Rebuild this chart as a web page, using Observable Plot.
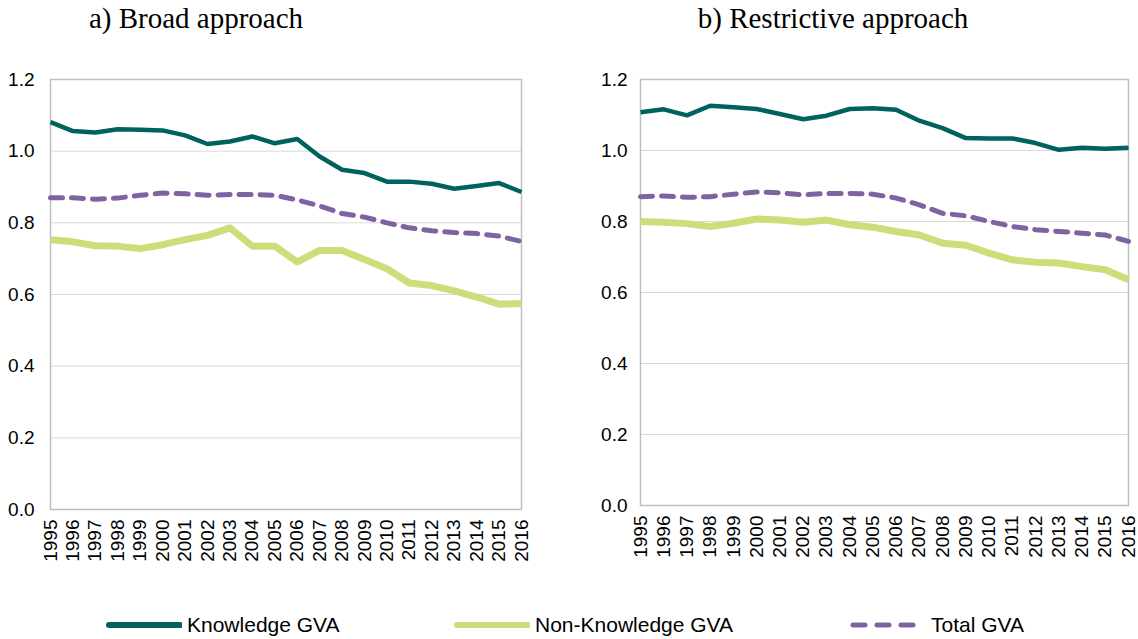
<!DOCTYPE html>
<html>
<head>
<meta charset="utf-8">
<script src="https://cdn.jsdelivr.net/npm/d3@7"></script>
<script src="https://cdn.jsdelivr.net/npm/@observablehq/plot@0.6"></script>
<style>
  html, body { margin: 0; padding: 0; background: #fff; }
  #root { position: relative; width: 1138px; height: 639px; overflow: hidden; font-family: "Liberation Sans", Arial, sans-serif; }
  .title { position: absolute; top: 0; height: 36px; line-height: 36px; font-family: "Liberation Serif", "Times New Roman", serif; font-size: 29px; color: #000; white-space: nowrap; transform: translateX(-50%); }
  .panel { position: absolute; top: 40px; }
  .leg { position: absolute; top: 611px; height: 28px; display: flex; align-items: center; font-size: 21px; color: #000; white-space: nowrap; }
  .leg svg { margin-right: 5px; }
</style>
</head>
<body>
<div id="root">
  <div class="title" style="left:196px">a) Broad approach</div>
  <div class="title" style="left:833px">b) Restrictive approach</div>
  <div class="panel" id="left" style="left:0px"></div>
  <div class="panel" id="right" style="left:569px"></div>
  <div id="legend"></div>
</div>
<script>
const years = [1995,1996,1997,1998,1999,2000,2001,2002,2003,2004,2005,2006,2007,2008,2009,2010,2011,2012,2013,2014,2015,2016];

const broadKnowledge    = [1.081,1.056,1.052,1.061,1.060,1.058,1.044,1.020,1.027,1.041,1.022,1.034,0.985,0.948,0.939,0.915,0.915,0.909,0.895,0.903,0.911,0.886];
const broadNonKnowledge = [0.753,0.747,0.736,0.735,0.728,0.739,0.753,0.765,0.786,0.735,0.735,0.691,0.723,0.723,0.698,0.672,0.632,0.625,0.610,0.593,0.573,0.575];
const broadTotal        = [0.870,0.870,0.866,0.869,0.877,0.883,0.881,0.877,0.879,0.879,0.877,0.864,0.847,0.826,0.816,0.800,0.786,0.778,0.773,0.770,0.763,0.748];

const restrKnowledge    = [1.108,1.116,1.099,1.126,1.122,1.117,1.103,1.088,1.098,1.117,1.119,1.115,1.084,1.063,1.035,1.034,1.034,1.021,1.002,1.008,1.005,1.008];
const restrNonKnowledge = [0.800,0.798,0.794,0.786,0.795,0.807,0.804,0.798,0.804,0.791,0.784,0.772,0.762,0.739,0.733,0.711,0.692,0.685,0.683,0.673,0.664,0.636];
const restrTotal        = [0.870,0.872,0.868,0.870,0.877,0.883,0.881,0.875,0.879,0.879,0.877,0.866,0.847,0.823,0.816,0.800,0.786,0.777,0.772,0.767,0.762,0.744];

const seriesNames = ["Knowledge GVA", "Non-Knowledge GVA", "Total GVA"];
const yTicks = [0, 0.2, 0.4, 0.6, 0.8, 1.0, 1.2];
const gridTicks = [0.2, 0.4, 0.6, 0.8, 1.0];

const styles = {
  "Knowledge GVA":     {stroke: "#00625d", strokeWidth: 4.5, dash: null},
  "Non-Knowledge GVA": {stroke: "#d0dc7a", strokeWidth: 7, dash: null},
  "Total GVA":         {stroke: "#7f62a1", strokeWidth: 5, dash: "12,9"}
};

function rows(k, nk, t) {
  const out = [];
  years.forEach((y, i) => {
    out.push({year: y, value: k[i], series: seriesNames[0]});
    out.push({year: y, value: nk[i], series: seriesNames[1]});
    out.push({year: y, value: t[i], series: seriesNames[2]});
  });
  return out;
}

function panel(data, opts) {
  const lines = seriesNames.map(name => {
    const s = styles[name];
    return Plot.line(data.filter(d => d.series === name), {
      x: "year", y: "value", stroke: s.stroke, strokeWidth: s.strokeWidth,
      strokeDasharray: s.dash, strokeLinejoin: "round", strokeLinecap: s.dash ? "round" : "butt"
    });
  });
  return Plot.plot({
    width: 569,
    height: opts.height,
    marginLeft: opts.marginLeft,
    marginRight: opts.marginRight,
    marginTop: 39,
    marginBottom: opts.marginBottom,
    style: {fontFamily: "'Liberation Sans', Arial, sans-serif", fontSize: "19px", color: "#000", background: "#fff", overflow: "visible"},
    x: {domain: [1995, 2016], ticks: years, tickFormat: d => String(d), tickRotate: -90, tickSize: 0, tickPadding: opts.xPad, label: null},
    y: {domain: [0, 1.2], ticks: yTicks, tickFormat: d => d.toFixed(1), tickSize: 0, tickPadding: opts.yPad, label: null},
    marks: [
      Plot.ruleY(gridTicks, {stroke: "#d9d9d9", strokeWidth: 1}),
      Plot.frame({stroke: "#bfbfbf", strokeWidth: 1.5}),
      ...lines
    ]
  });
}

const leftChart = panel(rows(broadKnowledge, broadNonKnowledge, broadTotal),
  {height: 535, marginLeft: 50, marginRight: 48, marginBottom: 66, xPad: 10, yPad: 16});
const rightChart = panel(rows(restrKnowledge, restrNonKnowledge, restrTotal),
  {height: 535, marginLeft: 71, marginRight: 10, marginBottom: 70, xPad: 10, yPad: 13});

document.getElementById("left").appendChild(leftChart);
document.getElementById("right").appendChild(rightChart);

// Legend
const legendPos = [
  {name: "Knowledge GVA", left: 106},
  {name: "Non-Knowledge GVA", left: 454},
  {name: "Total GVA", left: 848}
];
const legend = document.getElementById("legend");
legendPos.forEach(p => {
  const s = styles[p.name];
  const item = document.createElement("div");
  item.className = "leg";
  item.style.left = p.left + "px";
  const w = s.dash ? 72 : 76;
  const svgNS = "http://www.w3.org/2000/svg";
  const svg = document.createElementNS(svgNS, "svg");
  svg.setAttribute("width", w);
  svg.setAttribute("height", 14);
  const ln = document.createElementNS(svgNS, "line");
  ln.setAttribute("x1", s.dash ? 5 : 3);
  ln.setAttribute("x2", s.dash ? 68 : 74);
  ln.setAttribute("y1", 7);
  ln.setAttribute("y2", 7);
  ln.setAttribute("stroke", s.stroke);
  ln.setAttribute("stroke-width", s.dash ? 5 : 6);
  ln.setAttribute("stroke-linecap", "round");
  if (s.dash) ln.setAttribute("stroke-dasharray", "12,12");
  svg.appendChild(ln);
  item.appendChild(svg);
  const t = document.createElement("span");
  t.textContent = p.name;
  if (s.dash) t.style.marginLeft = "6px";
  item.appendChild(t);
  legend.appendChild(item);
});
</script>
</body>
</html>
